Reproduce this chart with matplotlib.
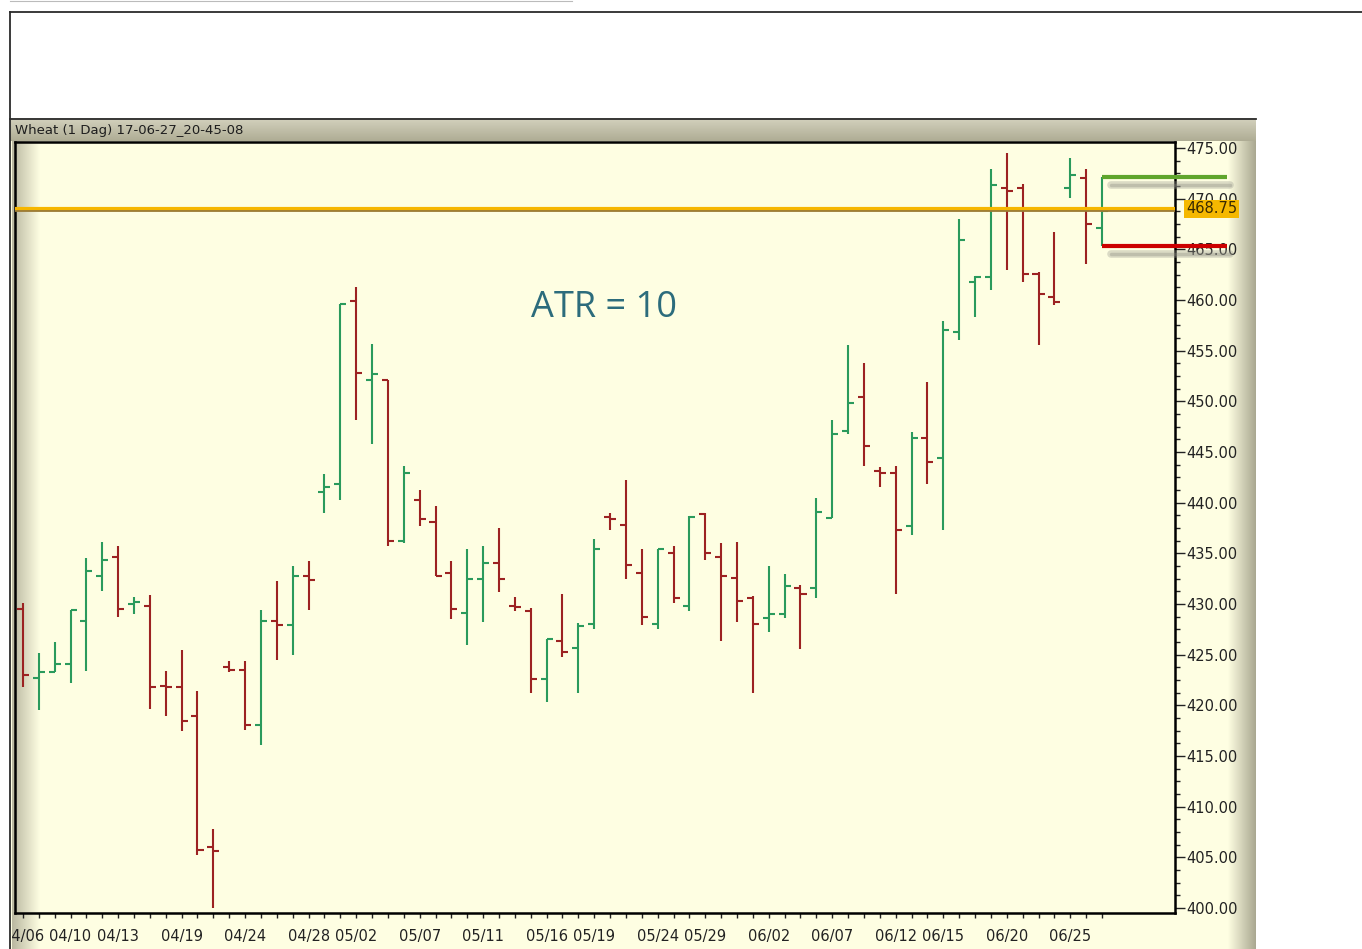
import numpy as np
import matplotlib
matplotlib.use("Agg")
import matplotlib.pyplot as plt
from matplotlib.colors import LinearSegmentedColormap
from matplotlib.ticker import FormatStrFormatter, MultipleLocator
from matplotlib import transforms

# ============================================================
# DATA  (daily wheat bars)
# ============================================================

opens = [429.5, 422.7, 423.3, 424.1, 428.3, 432.8, 434.6, 430.0, 429.8, 421.9,
         421.85, 418.95, 406.05, 423.8, 423.5, 418.05, 428.35, 427.95, 432.8, 441.1,
         441.8, 459.9, 452.1, 452.1, 436.25, 440.3, 438.05, 433.1, 429.1, 432.5,
         434.0, 429.8, 429.35, 422.6, 426.35, 425.7, 428.0, 438.55, 437.8, 433.1,
         428.0, 435.05, 429.8, 438.9, 434.6, 432.55, 430.55, 428.6, 429.0, 431.6,
         431.6, 438.5, 447.1, 450.4, 443.1, 442.9, 437.65, 446.35, 444.4, 456.8,
         461.8, 462.3, 471.1, 471.1, 462.55, 460.35, 471.1, 472.0, 467.1]
highs = [430.1, 425.2, 426.25, 429.4, 434.5, 436.15, 435.7, 430.7, 430.9, 423.4,
         425.5, 421.45, 407.8, 424.4, 424.4, 429.4, 432.3, 433.75, 434.2, 442.8,
         459.6, 461.25, 455.65, 452.1, 443.6, 441.25, 439.7, 434.2, 435.4, 435.7,
         437.5, 430.7, 429.65, 426.5, 431.0, 428.15, 436.4, 439.0, 442.2, 435.4,
         435.4, 435.7, 438.7, 439.0, 436.0, 436.15, 430.8, 433.75, 432.95, 431.9,
         440.5, 448.2, 455.55, 453.75, 443.5, 443.65, 446.95, 451.95, 457.9, 468.0,
         462.4, 472.9, 474.5, 471.5, 462.75, 466.7, 474.05, 472.9, 472.1]
lows = [421.8, 419.5, 423.3, 422.2, 423.4, 431.25, 428.7, 429.0, 419.6, 418.9,
        417.5, 405.2, 400.0, 423.3, 417.6, 416.05, 424.5, 424.95, 429.4, 439.0,
        440.3, 448.2, 445.8, 435.7, 436.05, 437.7, 432.8, 428.5, 425.95, 428.2,
        431.2, 429.35, 421.2, 420.3, 424.8, 421.2, 427.5, 437.3, 432.5, 427.9,
        427.5, 430.05, 429.3, 434.3, 426.3, 428.25, 421.2, 427.2, 428.6, 425.55,
        430.55, 438.5, 446.75, 443.6, 441.5, 431.0, 436.8, 441.8, 437.3, 456.05,
        458.35, 461.0, 463.0, 461.75, 455.55, 459.5, 470.05, 463.55, 465.3]
closes = [423.0, 423.3, 424.1, 429.4, 433.3, 434.3, 429.5, 430.2, 421.85, 421.8,
          418.5, 405.7, 405.6, 423.45, 418.05, 428.3, 427.95, 432.8, 432.4, 441.5,
          459.6, 452.8, 452.7, 436.25, 442.9, 438.4, 432.8, 429.5, 432.5, 434.0,
          432.5, 429.75, 422.6, 426.5, 425.3, 427.85, 435.4, 438.35, 433.85, 428.75,
          435.4, 430.55, 438.55, 435.05, 432.8, 430.25, 428.0, 429.0, 431.75, 431.0,
          439.1, 446.8, 449.8, 445.6, 442.9, 437.3, 446.35, 444.05, 457.0, 465.9,
          462.3, 471.35, 470.8, 462.55, 460.6, 459.85, 472.35, 467.5, 468.75]

date_pos = [0, 3, 6, 10, 14, 18, 21, 25, 29, 33, 36, 40, 43, 47, 51, 55, 58, 62, 66]
date_lbl = ["04/06", "04/10", "04/13", "04/19", "04/24", "04/28", "05/02", "05/07",
            "05/11", "05/16", "05/19", "05/24", "05/29", "06/02", "06/07", "06/12",
            "06/15", "06/20", "06/25"]

atr_value = 10
title = "Wheat (1 Dag) 17-06-27_20-45-08"

# ============================================================
# STYLE
# ============================================================

W, H = 1362, 949
UP, DOWN = "#2a9a5c", "#9c2222"
PANEL = "#fefee2"
EDGE = "#a9a790"


def gradient(ax, x0, x1, y0, y1, c0, c1, horizontal=True, z=0):
    cmap = LinearSegmentedColormap.from_list("g", [c0, c1])
    g = np.linspace(0, 1, 256)
    arr = g[None, :] if horizontal else g[:, None]
    ax.imshow(arr, cmap=cmap, extent=(x0, x1, y1, y0), aspect="auto",
              interpolation="bilinear", zorder=z)


fig = plt.figure(figsize=(W / 100, H / 100), dpi=100, facecolor="white")

# ---- window chrome, drawn in pixel coordinates ----
bg = fig.add_axes([0, 0, 1, 1])
bg.axis("off")
bg.add_patch(plt.Rectangle((10, 118), 1246, 831, facecolor=PANEL, edgecolor="none", zorder=0))
gradient(bg, 10, 1256, 118, 141, "#d4d2be", "#aeac94", horizontal=False, z=1)
gradient(bg, 12, 40, 141, 949, "#b9b7a0", PANEL, z=1)
gradient(bg, 1228, 1256, 141, 949, PANEL, EDGE, z=1)
bg.plot([10, 1362], [12, 12], color="#2b2b2b", lw=1.3, zorder=3)
bg.plot([10, 10], [12, 949], color="#2b2b2b", lw=1.3, zorder=3)
bg.plot([10, 1256], [118.5, 118.5], color="#2b2b2b", lw=1.3, zorder=3)
bg.plot([10, 572], [0.6, 0.6], color="#bbbbbb", lw=0.8, zorder=3)
bg.text(15, 130, title, fontsize=9.5, color="#1e1e1e", va="center", ha="left", zorder=4)
bg.set_xlim(0, W)
bg.set_ylim(H, 0)

# ---- price panel ----
ax = fig.add_axes([15 / W, (H - 913) / H, 1160 / W, 771 / H])
ax.patch.set_visible(False)

o, h, l, c = map(np.asarray, (opens, highs, lows, closes))
idx = np.arange(len(o))
cols = np.where(c >= o, UP, DOWN)
tick = 0.38
ax.vlines(idx, l, h, colors=cols, lw=1.5, zorder=3)
ax.hlines(o, idx - tick, idx, colors=cols, lw=1.5, zorder=3)
ax.hlines(c, idx, idx + tick, colors=cols, lw=1.5, zorder=3)

ax.set_xlim(-0.5, 72.6)
ax.set_ylim(399.5, 475.6)

for s in ax.spines.values():
    s.set_color("black")
    s.set_linewidth(1.8)

# last price line (orange with dark lower edge)
last = c[-1]
ytr = ax.get_yaxis_transform()
line_tr = transforms.offset_copy(ytr, fig=fig, y=2.5, units="dots")
ax.plot([0, 1], [last, last], transform=line_tr, color="#f6b600", lw=3.0, zorder=4)
ax.plot([0, 1], [last, last],
        transform=transforms.offset_copy(ytr, fig=fig, y=0, units="dots"),
        color="#9a7a36", lw=1.3, zorder=4)
ax.text(1.0095, last, f"{last:.2f}", transform=line_tr, ha="left", va="center",
        fontsize=10.5, color="#3a2a00", zorder=12, clip_on=False,
        bbox=dict(facecolor="#f5b800", edgecolor="none", pad=1.2))

# high / low markers of the last bar with their drop shadows
x_end = idx[-1] + 7.9
for level, colr in ((h[-1], "#5fa52c"), (l[-1], "#cc0000")):
    shadow = transforms.offset_copy(ax.transData, fig=fig, x=3, y=-8, units="dots")
    ax.plot([idx[-1] + 0.4, x_end], [level, level], transform=shadow,
            color="#9a9a90", lw=5.5, alpha=0.35, solid_capstyle="round",
            clip_on=False, zorder=5)
    ax.plot([idx[-1] + 0.4, x_end], [level, level], transform=shadow,
            color="#8a8a80", lw=2.5, alpha=0.35, solid_capstyle="round",
            clip_on=False, zorder=5)
    ax.plot([idx[-1], x_end], [level, level], color=colr, lw=3.0,
            solid_capstyle="butt", clip_on=False, zorder=6)

ax.text(36.6, 459.2, f"ATR = {atr_value}", fontsize=26, color="#2c6c7c",
        family="Open Sans", ha="center", va="center", zorder=6)

# axes ticks
ax.yaxis.tick_right()
ax.set_yticks(np.arange(400, 476, 5))
ax.yaxis.set_major_formatter(FormatStrFormatter("%.2f"))
ax.yaxis.set_minor_locator(MultipleLocator(1.25))
ax.tick_params(axis="y", which="major", length=7, width=1, pad=1,
               labelsize=10.5, colors="#222222")
ax.tick_params(axis="y", which="minor", length=3.5, width=1, colors="#222222")

ax.set_xticks(date_pos, date_lbl)
ax.set_xticks(idx, minor=True)
ax.tick_params(axis="x", which="both", length=3.5, width=1, pad=8,
               labelsize=10.5, colors="#222222")

clip = transforms.Bbox.from_extents(12 / W, 0, 1, 1)
for lbl in ax.get_xticklabels()[:1]:
    lbl.set_clip_on(True)
    lbl.set_clip_box(transforms.TransformedBbox(clip, fig.transFigure))

fig.savefig("out.png", dpi=100, facecolor="white")
